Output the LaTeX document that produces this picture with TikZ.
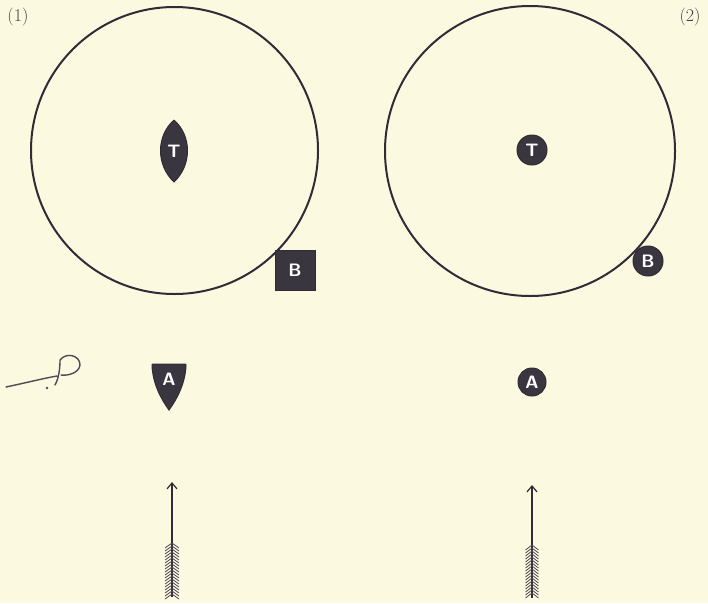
\documentclass[tikz,border=0pt]{standalone}
\usetikzlibrary{arrows.meta}
\definecolor{paper}{RGB}{251,249,224}
\definecolor{ink}{RGB}{50,42,55}
\definecolor{markfill}{RGB}{58,54,64}
\tikzset{
  ring/.style={draw=ink, line width=2pt},
  sigil/.style={fill=markfill, draw=ink, line width=1pt},
  letter/.style={text=white, font=\sffamily\bfseries\fontsize{18}{18}\selectfont, inner sep=0pt},
  numlabel/.style={text=ink!90, font=\fontsize{18}{18}\selectfont, inner sep=0pt},
  shaft/.style={draw=ink, line width=1.8pt, -{Straight Barb[length=6pt,width=10pt,line width=1.2pt]}},
  feather/.style={draw=ink!85, line width=0.8pt}
}
\begin{document}
\begin{tikzpicture}[x=1pt,y=-1pt]
\fill[paper] (0,0) rectangle (708,603);
\useasboundingbox (0,0) rectangle (708,603);

% labels
\node[numlabel] (lab1) at (18,17) {(1)};
\node[numlabel] (lab2) at (690,17) {(2)};

% ---------- figure (1) ----------
\draw[ring] (174.5,150.5) circle (143.5);
% lens T
\path[sigil] (174,120) .. controls (192,136) and (192,165) .. (174,182)
            .. controls (156,165) and (156,136) .. (174,120);
\node[letter] (T1) at (174,151) {T};
% square B
\path[sigil] (275,250) rectangle (315,290);
\node[letter] (B1) at (295,270) {B};
% shield A
\path[sigil] (152,366) .. controls (152,364) .. (154,364) -- (184,364)
            .. controls (186,364) .. (186,366)
            .. controls (185,384) and (177,399) .. (169,410)
            .. controls (161,399) and (153,384) .. (152,366) -- cycle;
\node[letter] (A1) at (169,379) {A};

% hand mark
\draw[ink!85, line width=1.4pt, line cap=round, line join=round]
  (6,387) .. controls (25,383) and (45,378) .. (57,376)
  (55,385) .. controls (59,378) and (60,368) .. (60,360)
  .. controls (66,352) and (80,355) .. (80,365)
  .. controls (79,373) and (68,376) .. (61,375);
\fill[ink!85] (47,388) circle (1.4);

% arrow (1)
\coordinate (n1) at (172,597);
\coordinate (tip1) at (172,482);
\draw[shaft] (n1) -- (tip1);
\foreach \y in {543,546,...,594} {
  \draw[feather] (165,\y+5) -- (172,\y) -- (179,\y+5);
}

% ---------- figure (2) ----------
\draw[ring] (530,151) circle (145);
\path[sigil] (532,150) circle (15);
\node[letter] (T2) at (532,150) {T};
\path[sigil] (648,261) circle (15);
\node[letter] (B2) at (648,261) {B};
\path[sigil] (532,382) circle (14);
\node[letter] (A2) at (532,382) {A};

% arrow (2)
\coordinate (n2) at (532,598);
\coordinate (tip2) at (532,485);
\draw[shaft] (n2) -- (tip2);
\foreach \y in {545,548,...,595} {
  \draw[feather] (525.5,\y+5) -- (532,\y) -- (538.5,\y+5);
}
\end{tikzpicture}
\end{document}
